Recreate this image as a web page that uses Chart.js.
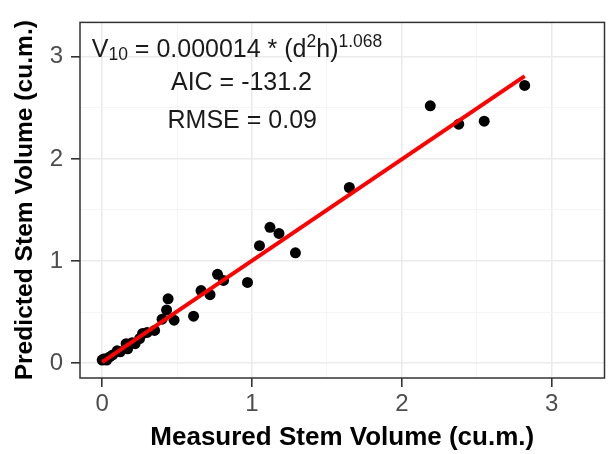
<!DOCTYPE html>
<html><head><meta charset="utf-8">
<script src="https://cdn.jsdelivr.net/npm/chart.js@4/dist/chart.umd.min.js"></script>
<style>html,body{margin:0;padding:0;background:#fff;} #wrap{width:610px;height:454px;position:relative;}</style>
</head><body><div id="wrap"><canvas id="c" width="610" height="454"></canvas></div>
<script>
// ---- data ----
const measured  = [0.00, 0.01, 0.02, 0.03, 0.05, 0.07, 0.10, 0.12, 0.16, 0.17, 0.20, 0.22, 0.25, 0.27, 0.30, 0.35, 0.40, 0.43, 0.44, 0.48, 0.61, 0.66, 0.72, 0.77, 0.81, 0.97, 1.05, 1.12, 1.18, 1.29, 1.65, 2.19, 2.38, 2.55, 2.82];
const predicted = [0.03, 0.04, 0.04, 0.03, 0.06, 0.08, 0.12, 0.11, 0.19, 0.14, 0.20, 0.19, 0.24, 0.29, 0.30, 0.32, 0.43, 0.52, 0.63, 0.42, 0.46, 0.71, 0.67, 0.87, 0.81, 0.79, 1.15, 1.33, 1.27, 1.08, 1.72, 2.52, 2.34, 2.37, 2.72];
const fitX = [0.00, 2.82];
const fitY = [0.01, 2.81];
const majorTicks = [0, 1, 2, 3];
const minorTicks = [0.5, 1.5, 2.5];
const tickLabels = ['0', '1', '2', '3'];
const xTitle = 'Measured Stem Volume (cu.m.)';
const yTitle = 'Predicted Stem Volume (cu.m.)';
const statLines = ['AIC = -131.2', 'RMSE = 0.09'];
// annotation anchors (data units): equation, AIC, RMSE
const annoX = [0.90, 0.93, 0.935];
const annoY = [3.00, 2.67, 2.30];

const FONT = '"Liberation Sans", Arial, Helvetica, sans-serif';
const allTicks = majorTicks.concat(minorTicks).sort((a,b)=>a-b);
const isMajor = v => majorTicks.indexOf(v) >= 0;

const annoPlugin = {
  id: 'anno',
  afterDraw(chart) {
    const {ctx, chartArea: a, scales: {x, y}} = chart;
    ctx.save();
    // panel border
    ctx.strokeStyle = '#333333';
    ctx.lineWidth = 1.5;
    ctx.strokeRect(a.left, a.top, a.right - a.left, a.bottom - a.top);
    // equation
    ctx.fillStyle = '#1A1A1A';
    ctx.textBaseline = 'alphabetic';
    const big = 25, small = 17.5;
    const parts = [
      {t: 'V', s: big, dy: 0},
      {t: '10', s: small, dy: 3},
      {t: ' = 0.000014 * (d', s: big, dy: 0},
      {t: '2', s: small, dy: -10},
      {t: 'h)', s: big, dy: 0},
      {t: '1.068', s: small, dy: -10}
    ];
    let w = 0;
    parts.forEach(p => { ctx.font = p.s + 'px ' + FONT; p.w = ctx.measureText(p.t).width; w += p.w; });
    let px = x.getPixelForValue(annoX[0]) - w / 2;
    const by = y.getPixelForValue(annoY[0]);
    ctx.textAlign = 'left';
    parts.forEach(p => { ctx.font = p.s + 'px ' + FONT; ctx.fillText(p.t, px, by + p.dy); px += p.w; });
    ctx.textAlign = 'center';
    ctx.font = big + 'px ' + FONT;
    statLines.forEach((s, i) => {
      ctx.fillText(s, x.getPixelForValue(annoX[i + 1]), y.getPixelForValue(annoY[i + 1]));
    });
    ctx.restore();
  }
};

const gridOpts = {
  color: c => isMajor(c.tick && c.tick.value) ? '#EBEBEB' : '#F4F4F4',
  lineWidth: c => isMajor(c.tick && c.tick.value) ? 1.6 : 0.9,
  drawTicks: true,
  tickLength: 9,
  tickColor: c => isMajor(c.tick && c.tick.value) ? '#333333' : 'rgba(0,0,0,0)',
  tickWidth: 1.6
};
const tickCb = v => { const i = majorTicks.indexOf(v); return i >= 0 ? tickLabels[i] : ''; };

new Chart(document.getElementById('c'), {
  type: 'scatter',
  data: {
    datasets: [
      {
        type: 'line',
        data: fitX.map((v, i) => ({x: v, y: fitY[i]})),
        borderColor: '#FF0000',
        borderWidth: 4,
        pointRadius: 0,
        fill: false,
        tension: 0
      },
      {
        data: measured.map((v, i) => ({x: v, y: predicted[i]})),
        backgroundColor: '#000000',
        borderColor: '#000000',
        borderWidth: 0,
        pointRadius: 5.5
      }
    ]
  },
  options: {
    responsive: false,
    devicePixelRatio: 1,
    animation: false,
    layout: {padding: {top: 19, right: 4, left: 0, bottom: 0}},
    plugins: {legend: {display: false}, tooltip: {enabled: false}},
    scales: {
      x: {
        type: 'linear', min: -0.148, max: 3.353,
        afterBuildTicks: s => { s.ticks = allTicks.map(v => ({value: v})); },
        afterFit: s => { s.height = 76; },
        grid: gridOpts,
        border: {display: false},
        ticks: {callback: tickCb, color: '#4D4D4D', font: {family: FONT, size: 24}, padding: 3, maxRotation: 0, autoSkip: false},
        title: {display: true, text: xTitle, color: '#000000', font: {family: FONT, size: 26, weight: 'bold'}, padding: {top: 0, bottom: 1}}
      },
      y: {
        type: 'linear', min: -0.146, max: 3.337,
        afterBuildTicks: s => { s.ticks = allTicks.map(v => ({value: v})); },
        afterFit: s => { s.width = 80; },
        grid: gridOpts,
        border: {display: false},
        ticks: {callback: tickCb, color: '#4D4D4D', font: {family: FONT, size: 24}, padding: 8, autoSkip: false},
        title: {display: true, text: yTitle, color: '#000000', font: {family: FONT, size: 24.6, weight: 'bold'}, padding: {top: 10, bottom: 0}}
      }
    }
  },
  plugins: [annoPlugin]
});
</script>
</body></html>
